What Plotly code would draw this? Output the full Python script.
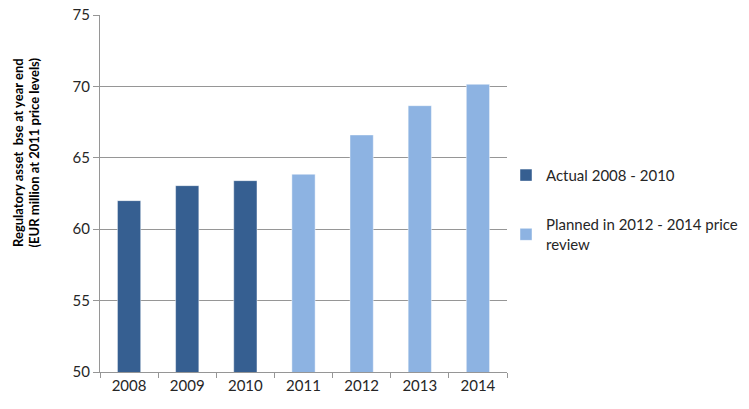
import plotly.graph_objects as go

# Regulatory asset base at year end, EUR million (2011 price levels)
actual_years = ["2008", "2009", "2010"]
actual_values = [62.0, 63.05, 63.4]

planned_years = ["2011", "2012", "2013", "2014"]
planned_values = [63.85, 66.6, 68.65, 70.15]

all_years = actual_years + planned_years

font_family = "Lato, 'Open Sans', sans-serif"
axis_grey = "#969696"
text_grey = "#262626"

# Plot area spans x = 100..507 px; the right part of the paper holds the legend
plot_left, plot_right, fig_w = 100, 507, 749
x_domain_end = (plot_right - plot_left) / (fig_w - plot_left)

fig = go.Figure()

fig.add_trace(go.Bar(
    x=actual_years,
    y=actual_values,
    name="Actual 2008 - 2010",
    marker=dict(color="#365F91", line=dict(color="rgba(255,255,255,0.45)", width=1)),
    width=0.4,
    legendgroup="actual",
))

fig.add_trace(go.Bar(
    x=planned_years,
    y=planned_values,
    name="Planned in 2012 - 2014 price<br>review",
    marker=dict(color="#8DB3E2", line=dict(color="rgba(255,255,255,0.45)", width=1)),
    width=0.4,
    legendgroup="planned",
))

fig.update_layout(
    width=fig_w,
    height=409,
    margin=dict(l=plot_left, r=0, t=15, b=37),
    paper_bgcolor="white",
    plot_bgcolor="white",
    barmode="overlay",
    font=dict(family=font_family, size=15, color=text_grey),
    showlegend=True,
    legend=dict(
        x=(506 - plot_left) / (fig_w - plot_left), xanchor="left",
        y=0.597, yanchor="top",
        traceorder="grouped",
        tracegroupgap=27,
        font=dict(family=font_family, size=15, color=text_grey),
        bgcolor="rgba(0,0,0,0)",
        itemwidth=30,
    ),
    xaxis=dict(
        type="category",
        categoryorder="array",
        categoryarray=all_years,
        domain=[0, x_domain_end],
        showline=True,
        linecolor=axis_grey,
        linewidth=1,
        ticks="outside",
        tickson="boundaries",
        ticklen=5,
        tickcolor=axis_grey,
        showgrid=False,
        automargin=False,
        tickfont=dict(size=15, color=text_grey),
    ),
    yaxis=dict(
        range=[50, 75],
        dtick=5,
        showline=True,
        linecolor=axis_grey,
        linewidth=1,
        ticks="outside",
        ticklen=6,
        tickcolor=axis_grey,
        showgrid=True,
        gridcolor=axis_grey,
        gridwidth=1,
        zeroline=False,
        automargin=False,
        tickfont=dict(size=15, color=text_grey),
    ),
    annotations=[
        dict(
            text="<b>Regulatory asset  bse at year end<br>(EUR million at 2011 price levels)</b>",
            xref="paper", yref="paper",
            x=-74 / (fig_w - plot_left), y=0.615,
            xanchor="center", yanchor="middle",
            textangle=-90,
            showarrow=False,
            font=dict(family=font_family, size=13, color="#000000"),
        )
    ],
)

fig.write_html("out.html")
